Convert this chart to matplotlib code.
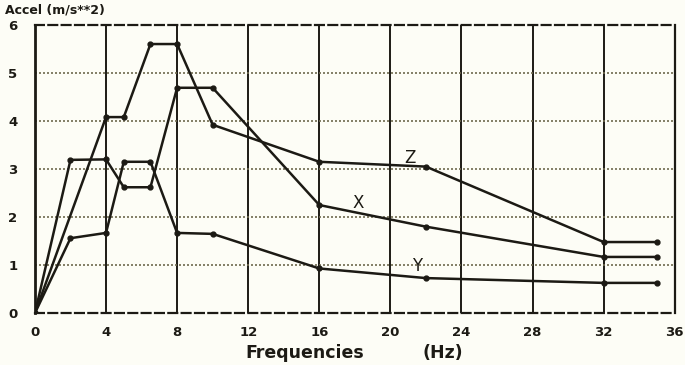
import matplotlib
matplotlib.use("Agg")
import matplotlib.pyplot as plt

# frequencies (Hz) of the measured points
freq_z = [0, 4, 5, 6.5, 8, 10, 16, 22, 32, 35]
accel_z = [0, 4.08, 4.08, 5.6, 5.6, 3.92, 3.15, 3.05, 1.48, 1.48]

freq_x = [0, 2, 4, 5, 6.5, 8, 10, 16, 22, 32, 35]
accel_x = [0, 3.19, 3.2, 2.62, 2.62, 4.69, 4.69, 2.25, 1.8, 1.17, 1.17]

freq_y = [0, 2, 4, 5, 6.5, 8, 10, 16, 22, 32, 35]
accel_y = [0, 1.56, 1.67, 3.15, 3.15, 1.67, 1.65, 0.93, 0.73, 0.63, 0.63]

x_ticks = [0, 4, 8, 12, 16, 20, 24, 28, 32, 36]
y_ticks = [0, 1, 2, 3, 4, 5, 6]

ink = "#1c1a14"

fig = plt.figure(figsize=(6.85, 3.65), dpi=100, facecolor="#fdfdf6")
ax = fig.add_axes([0.051, 0.142, 0.934, 0.79])
ax.set_facecolor("#fdfdf6")

# grid: solid verticals, dotted horizontals
for xv in x_ticks[1:-1]:
    ax.axvline(xv, color=ink, lw=1.4, zorder=1)
for yv in y_ticks[1:-1]:
    ax.axhline(yv, color="#6f6a4e", lw=1.2, ls=(0, (1.2, 1.2)), zorder=1)

for fx, ay in [(freq_z, accel_z), (freq_x, accel_x), (freq_y, accel_y)]:
    ax.plot(fx, ay, color=ink, lw=1.8, marker="o", ms=3.5, zorder=3)

ax.text(21.1, 3.22, "Z", fontsize=12, color=ink, ha="center", va="center")
ax.text(18.2, 2.3, "X", fontsize=12, color=ink, ha="center", va="center")
ax.text(21.5, 0.98, "Y", fontsize=12, color=ink, ha="center", va="center")

ax.set_xlim(0, 36)
ax.set_ylim(0, 6)
ax.set_xticks(x_ticks)
ax.set_yticks(y_ticks)
ax.tick_params(axis="x", length=0, pad=9, labelsize=9.5, colors=ink)
ax.tick_params(axis="y", length=0, pad=16, labelsize=9.5, colors=ink)
for lab in ax.get_yticklabels():
    lab.set_horizontalalignment("center")
for lab in ax.get_xticklabels() + ax.get_yticklabels():
    lab.set_fontweight("bold")

ax.spines["left"].set_linewidth(2.0)
ax.spines["right"].set_linewidth(1.6)
for side in ["top", "bottom"]:
    ax.spines[side].set_linestyle((0, (4, 2)))
    ax.spines[side].set_linewidth(1.6)
for sp in ax.spines.values():
    sp.set_color(ink)

fig.text(0.007, 0.972, "Accel (m/s**2)", fontsize=9, fontweight="bold",
         color=ink, ha="left", va="center")
fig.text(0.445, 0.033, "Frequencies", fontsize=12.5, fontweight="bold",
         color=ink, ha="center", va="center")
fig.text(0.647, 0.033, "(Hz)", fontsize=12.5, fontweight="bold",
         color=ink, ha="center", va="center")

fig.savefig("out.png", dpi=100, facecolor=fig.get_facecolor())
